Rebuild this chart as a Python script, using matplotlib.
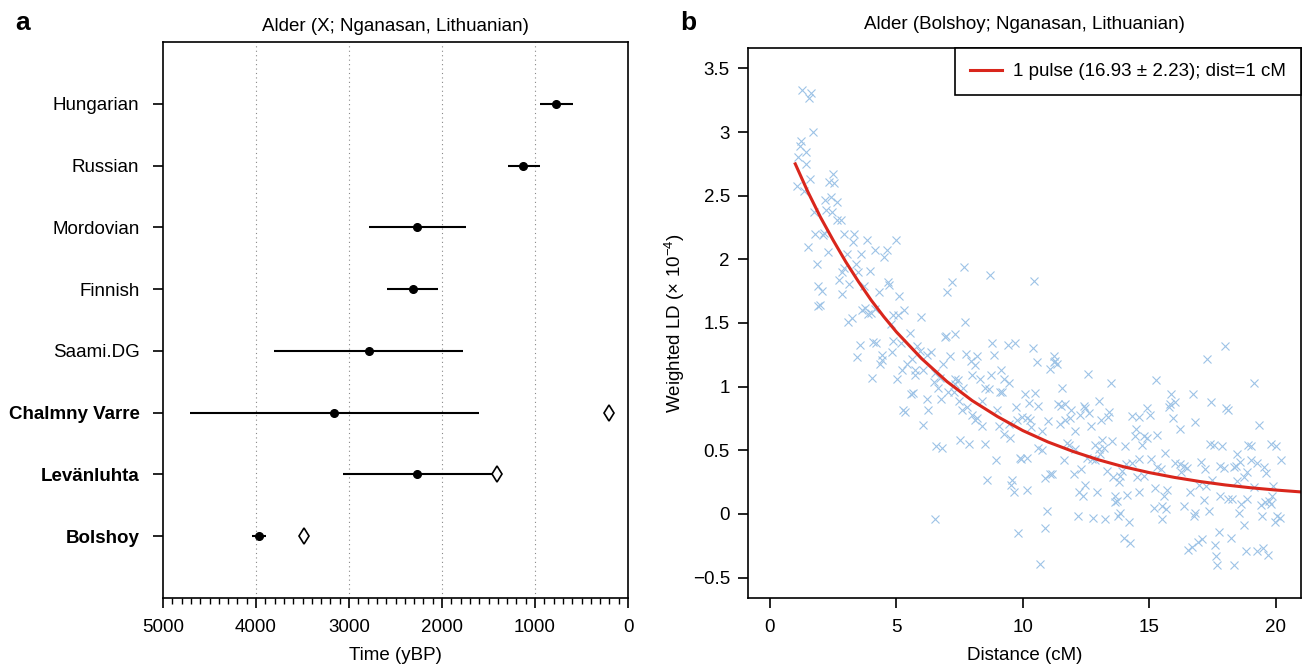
import numpy as np
import matplotlib.pyplot as plt
from matplotlib.ticker import FuncFormatter, MultipleLocator

plt.rcParams['font.family'] = ['Liberation Sans', 'DejaVu Sans']
plt.rcParams['mathtext.fontset'] = 'custom'
plt.rcParams['mathtext.rm'] = 'Liberation Sans'

# panel a: ALDER dates (years BP)
populations = ['Hungarian', 'Russian', 'Mordovian', 'Finnish', 'Saami.DG',
               'Chalmny Varre', 'Levänluhta', 'Bolshoy']
bold_pops = ['Chalmny Varre', 'Levänluhta', 'Bolshoy']
admix_time = [770, 1125, 2265, 2310, 2790, 3160, 2265, 3968]
time_lo = [595, 946, 1745, 2040, 1776, 1604, 1405, 3894]
time_hi = [946, 1292, 2782, 2590, 3805, 4710, 3068, 4045]
sample_age = [np.nan, np.nan, np.nan, np.nan, np.nan, 200, 1405, 3485]

# panel b: weighted LD decay for Bolshoy
dist_cm = [
    1.28, 1.62, 1.54, 1.70, 1.23, 1.19, 1.41, 1.12, 1.44, 1.58, 1.08, 1.35, 2.51, 2.35, 2.55, 2.19,
    2.40, 2.64, 1.73, 2.23, 2.44, 2.64, 2.81, 1.78, 2.09, 2.15, 2.94, 3.34, 3.30, 3.85, 4.98, 1.49,
    2.31, 3.06, 3.60, 4.16, 4.62, 4.53, 1.85, 3.41, 2.94, 2.86, 3.96, 3.50, 2.74, 3.14, 1.89, 2.05,
    3.72, 4.66, 4.71, 2.84, 4.32, 5.12, 1.97, 1.91, 3.66, 3.76, 4.00, 3.89, 4.16, 3.24, 3.10, 4.88,
    5.08, 5.32, 4.79,
    7.68, 8.69, 7.19, 7.02, 10.44, 5.97, 7.72,
    3.56, 4.09, 4.19, 3.46, 4.45, 4.42, 4.37, 4.05,
    5.52, 6.97, 6.93, 7.33, 4.88, 5.18, 5.83, 4.82, 5.94, 6.38, 6.20, 5.61, 7.13, 7.76, 8.18, 5.44,
    7.96, 6.86, 8.12, 5.21, 5.72, 6.07, 6.51, 5.74, 6.73, 8.01, 5.02, 6.47, 7.30, 7.43, 8.32, 6.63,
    7.33, 7.62, 8.49, 7.06, 7.26, 5.58, 5.66, 6.22, 6.77, 7.49, 8.38, 7.79, 7.59, 5.28, 5.35, 6.27,
    7.99, 8.18, 8.12, 6.07, 8.38, 6.56, 6.82, 7.52, 7.88, 8.51, 8.58, 6.53,
    8.78, 9.40, 9.70, 8.88, 10.40, 10.56, 11.25, 11.29, 11.22, 11.35, 11.09, 8.74, 9.14, 9.24, 9.44,
    12.57, 8.65, 9.11, 9.18, 10.10, 10.50, 11.55, 9.74, 10.23, 10.60, 11.39, 11.52, 11.68, 11.92,
    12.41, 12.48, 12.25, 8.98, 9.77, 9.97, 10.17, 10.30, 11.00, 11.68, 11.88, 11.49, 9.04, 9.44,
    10.34, 10.76, 12.05, 9.27, 9.50, 10.60, 10.78, 11.75, 11.84, 12.08, 8.95, 9.90, 9.94, 10.17,
    11.62, 12.54, 9.57, 9.54, 9.64, 10.17, 10.89, 11.09, 11.16, 12.01, 12.32, 12.45, 12.24, 12.37,
    10.96, 10.86, 9.83, 12.17, 10.69,
    13.47, 15.28, 12.63, 13.03, 15.88, 15.78, 16.04, 15.84, 12.71, 13.11, 13.36, 13.43, 14.32, 14.61,
    14.92, 15.05, 15.93, 16.20, 14.46, 14.43, 14.79, 14.92, 15.31, 12.84, 13.14, 13.53, 13.00, 13.20,
    13.07, 14.03, 14.72, 15.62, 12.74, 12.87, 14.61, 15.09, 16.01, 16.21, 16.37, 16.50, 14.09, 14.32,
    13.33, 15.31, 15.45, 13.93, 13.56, 13.80, 13.86, 14.52, 14.79, 16.24, 15.22, 15.71, 15.58, 12.94,
    14.13, 14.59, 13.64, 13.66, 13.73, 15.18, 15.51, 15.67, 16.37, 13.86, 13.77, 12.77, 13.27, 14.22,
    15.49, 13.99, 14.26, 16.54,
    17.99, 17.29, 19.14, 16.72, 17.43, 18.05, 18.11, 16.83, 19.34, 17.39, 17.56, 17.89, 18.92, 19.01,
    19.80, 20.00, 18.48, 20.20, 19.04, 19.27, 18.59, 17.03, 17.20, 17.82, 17.95, 18.35, 18.42, 19.54,
    19.63, 18.88, 17.49, 18.48, 18.74, 16.96, 17.23, 19.14, 19.89, 16.63, 17.79, 18.11, 18.28, 18.85,
    19.87, 19.80, 17.16, 18.65, 19.41, 19.60, 19.73, 18.55, 16.83, 16.77, 17.36, 19.45, 20.07, 20.16,
    19.97, 18.74, 17.75, 18.22, 17.07, 16.94, 16.70, 17.60, 18.81, 19.27, 19.50, 19.70, 17.65, 17.69,
    18.35,
]
weighted_ld = [
    3.33, 3.31, 3.27, 3.00, 2.93, 2.89, 2.84, 2.80, 2.75, 2.63, 2.58, 2.54, 2.67, 2.61, 2.60, 2.47,
    2.49, 2.45, 2.37, 2.39, 2.37, 2.31, 2.31, 2.20, 2.19, 2.21, 2.20, 2.20, 2.14, 2.15, 2.15, 2.10,
    2.06, 2.04, 2.04, 2.07, 2.07, 2.02, 1.96, 1.96, 1.93, 1.90, 1.91, 1.90, 1.84, 1.81, 1.79, 1.75,
    1.79, 1.82, 1.80, 1.73, 1.74, 1.71, 1.64, 1.63, 1.60, 1.62, 1.58, 1.57, 1.61, 1.54, 1.51, 1.56,
    1.56, 1.60, 1.49,
    1.94, 1.88, 1.82, 1.74, 1.83, 1.55, 1.51,
    1.33, 1.35, 1.34, 1.23, 1.25, 1.21, 1.18, 1.07,
    1.42, 1.40, 1.39, 1.41, 1.36, 1.34, 1.32, 1.27, 1.28, 1.27, 1.25, 1.22, 1.24, 1.26, 1.24, 1.18,
    1.20, 1.18, 1.17, 1.13, 1.13, 1.13, 1.11, 1.09, 1.07, 1.09, 1.06, 1.04, 1.06, 1.05, 1.06, 0.99,
    1.02, 0.99, 0.99, 0.96, 0.96, 0.94, 0.95, 0.90, 0.90, 0.89, 0.89, 0.84, 0.82, 0.82, 0.80, 0.82,
    0.78, 0.75, 0.74, 0.70, 0.69, 0.53, 0.52, 0.58, 0.55, 0.55, 0.27, -0.04,
    1.34, 1.33, 1.34, 1.25, 1.30, 1.19, 1.24, 1.20, 1.19, 1.18, 1.14, 1.09, 1.13, 1.06, 1.03,
    1.10, 0.98, 0.96, 0.96, 0.94, 0.95, 0.99, 0.84, 0.87, 0.85, 0.86, 0.85, 0.86, 0.82,
    0.85, 0.83, 0.78, 0.82, 0.74, 0.76, 0.75, 0.74, 0.73, 0.74, 0.75, 0.71, 0.69, 0.71,
    0.68, 0.65, 0.65, 0.63, 0.60, 0.52, 0.50, 0.56, 0.54, 0.51, 0.42, 0.44, 0.43, 0.44,
    0.42, 0.44, 0.27, 0.23, 0.17, 0.19, 0.28, 0.31, 0.31, 0.31, 0.35, 0.23, 0.17, 0.14,
    0.02, -0.11, -0.15, -0.02, -0.39,
    1.03, 1.05, 0.79, 0.89, 0.94, 0.84, 0.88, 0.86, 0.69, 0.74, 0.76, 0.80, 0.77, 0.76,
    0.83, 0.78, 0.75, 0.67, 0.67, 0.61, 0.61, 0.60, 0.62, 0.54, 0.58, 0.57, 0.51, 0.52,
    0.47, 0.53, 0.54, 0.48, 0.43, 0.42, 0.43, 0.43, 0.40, 0.39, 0.38, 0.36, 0.39, 0.40,
    0.34, 0.37, 0.35, 0.34, 0.29, 0.25, 0.30, 0.29, 0.30, 0.33, 0.20, 0.19, 0.14, 0.17,
    0.15, 0.17, 0.14, 0.09, 0.10, 0.05, 0.06, 0.04, 0.06, 0.01, -0.02, -0.03, -0.04, -0.06,
    -0.04, -0.19, -0.23, -0.28,
    1.32, 1.22, 1.03, 0.94, 0.88, 0.83, 0.82, 0.72, 0.70, 0.55, 0.54, 0.53, 0.54, 0.53,
    0.55, 0.53, 0.47, 0.42, 0.42, 0.40, 0.41, 0.41, 0.35, 0.38, 0.36, 0.37, 0.38, 0.37,
    0.32, 0.33, 0.27, 0.26, 0.29, 0.23, 0.22, 0.21, 0.22, 0.17, 0.14, 0.12, 0.12, 0.12,
    0.14, 0.08, 0.11, 0.08, 0.07, 0.09, 0.10, 0.01, 0.01, -0.02, 0.02, -0.02, -0.02, -0.03,
    -0.06, -0.09, -0.14, -0.19, -0.20, -0.22, -0.26, -0.24, -0.29, -0.29, -0.27, -0.32, -0.33, -0.40,
    -0.40,
]
# fitted single-pulse curve
fit_dist = [1, 1.5, 2, 2.5, 3, 3.5, 4, 4.5, 5, 6, 7, 8, 9, 10, 11, 12, 13, 14, 15, 16, 17, 18, 19, 20, 21]
fit_ld = [2.75, 2.53, 2.33, 2.15, 1.98, 1.825, 1.68, 1.55, 1.43, 1.22, 1.04, 0.89, 0.765, 0.655,
          0.565, 0.49, 0.425, 0.37, 0.325, 0.287, 0.255, 0.228, 0.206, 0.188, 0.173]

fig = plt.figure(figsize=(13.04, 6.65), dpi=100)
FS = 13.5

# ---- panel a ----
ax1 = fig.add_axes([0.125, 0.1008, 0.3566, 0.836])
ypos = np.arange(len(populations), 0, -1)
for x in [1000, 2000, 3000, 4000]:
    ax1.axvline(x, color='#888888', ls=(0, (1, 3)), lw=0.8, zorder=0)
ax1.hlines(ypos, time_lo, time_hi, color='black', lw=1.5)
ax1.plot(admix_time, ypos, 'o', color='black', ms=5.5)
ax1.plot(sample_age, ypos, 'd', mfc='white', mec='black', mew=1.2, ms=8)
ax1.set_xlim(5000, 0)
ax1.set_ylim(0, 9)
ax1.set_yticks(ypos)
ax1.set_yticklabels(populations)
for lab in ax1.get_yticklabels():
    if lab.get_text() in bold_pops:
        lab.set_fontweight('bold')
ax1.xaxis.set_major_locator(MultipleLocator(1000))
ax1.xaxis.set_minor_locator(MultipleLocator(100))
ax1.tick_params(axis='both', which='major', labelsize=FS, length=7, width=1.2, direction='out')
ax1.tick_params(axis='x', which='minor', length=4, width=1.0, direction='out')
ax1.tick_params(axis='y', pad=10)
ax1.tick_params(axis='x', pad=8)
for s in ax1.spines.values():
    s.set_linewidth(1.2)
ax1.set_xlabel('Time (yBP)', fontsize=FS, labelpad=8)
ax1.set_title('Alder (X; Nganasan, Lithuanian)', fontsize=FS, pad=8)

# ---- panel b ----
ax2 = fig.add_axes([0.5736, 0.1008, 0.4240, 0.827])
ax2.plot(dist_cm, weighted_ld, 'x', color='#9dc3e6', ms=6, mew=0.8, zorder=1)
ax2.plot(fit_dist, fit_ld, color='#d9261c', lw=2.2, zorder=2,
         label='1 pulse (16.93 ± 2.23); dist=1 cM')
ax2.set_xlim(-0.87, 21.0)
ax2.set_ylim(-0.66, 3.66)
ax2.set_xticks([0, 5, 10, 15, 20])
ax2.set_yticks([-0.5, 0, 0.5, 1, 1.5, 2, 2.5, 3, 3.5])
ax2.yaxis.set_major_formatter(FuncFormatter(lambda v, p: ('%g' % v).replace('-', '\u2212')))
ax2.tick_params(axis='both', labelsize=FS, length=7, width=1.2, direction='out')
ax2.tick_params(axis='y', pad=6)
ax2.tick_params(axis='x', pad=8)
for s in ax2.spines.values():
    s.set_linewidth(1.2)
ax2.set_xlabel('Distance (cM)', fontsize=FS, labelpad=8)
ax2.set_ylabel('Weighted LD (× 10$^{\\mathrm{-4}}$)', fontsize=FS, labelpad=4)
ax2.set_title('Alder (Bolshoy; Nganasan, Lithuanian)', fontsize=FS, pad=14)
leg = ax2.legend(loc='upper right', borderaxespad=0, fancybox=False, fontsize=FS,
                 handlelength=1.7, handletextpad=0.6, borderpad=0.8, framealpha=1)
leg.get_frame().set_edgecolor('black')
leg.get_frame().set_linewidth(1.2)

fig.text(0.012, 0.965, 'a', fontsize=19, fontweight='bold', va='center')
fig.text(0.522, 0.965, 'b', fontsize=19, fontweight='bold', va='center')

fig.savefig('out.png', dpi=100)
